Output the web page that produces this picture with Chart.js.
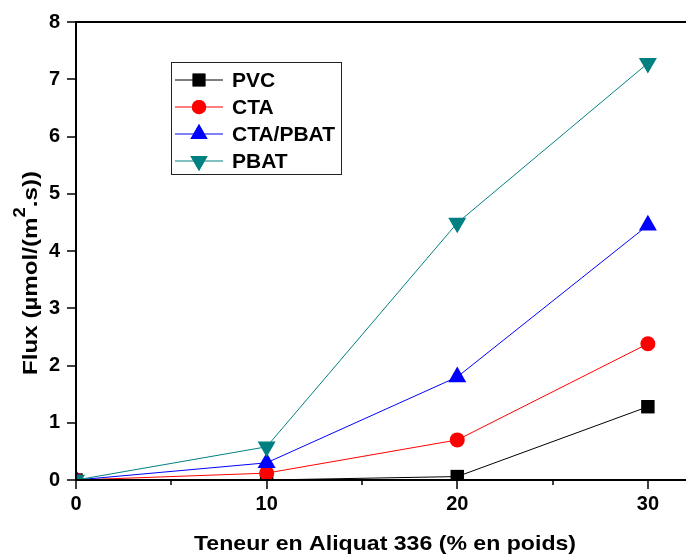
<!DOCTYPE html>
<html><head><meta charset="utf-8">
<script src="https://cdn.jsdelivr.net/npm/chart.js@4"></script>
<style>html,body{margin:0;padding:0;background:#fff}canvas{display:block}</style>
</head><body>
<canvas id="c" width="686" height="555"></canvas>
<script>
// Aliquat 336 loading (wt %) and measured flux for each membrane polymer
const loadings = [0, 10, 20, 30];
const pvc = [0, 0, 0.06, 1.28];
const cta = [0, 0.12, 0.70, 2.38];
const ctaPbat = [0, 0.30, 1.80, 4.45];
const pbat = [0, 0.58, 4.49, 7.28];
const seriesNames = ['PVC', 'CTA', 'CTA/PBAT', 'PBAT'];
const xMajorTicks = [0, 10, 20, 30];
const xMinorTicks = [5, 15, 25];
const yTicks = [0, 1, 2, 3, 4, 5, 6, 7, 8];
const xTitle = 'Teneur en Aliquat 336 (% en poids)';
const yTitleParts = ['Flux (\u00b5mol/(m', '2', '.s))'];

const FONT = '"Liberation Sans", Arial, sans-serif';
const styles = [
  {color: '#000000', pointStyle: 'rect', radius: 9.5, rotation: 0},
  {color: '#ff0000', pointStyle: 'circle', radius: 7.5, rotation: 0},
  {color: '#0000ff', pointStyle: 'triangle', radius: 10.4, rotation: 0},
  {color: '#008080', pointStyle: 'triangle', radius: 10.4, rotation: 180}
];
const seriesValues = [pvc, cta, ctaPbat, pbat];

const datasets = seriesValues.map((vals, i) => ({
  label: seriesNames[i],
  data: loadings.map((x, j) => ({x: x, y: vals[j]})),
  borderColor: styles[i].color,
  backgroundColor: styles[i].color,
  borderWidth: 1,
  pointStyle: styles[i].pointStyle,
  pointRadius: styles[i].radius,
  pointRotation: styles[i].rotation,
  pointBorderWidth: 0,
  pointBackgroundColor: styles[i].color,
  tension: 0,
  order: seriesNames.length - i
}));

// draws a string with a slight horizontal stretch along its baseline
function stretchedText(ctx, text, x, y, sx) {
  ctx.save();
  ctx.translate(x, y);
  ctx.scale(sx, 1);
  ctx.fillText(text, 0, 0);
  ctx.restore();
}

// axis frame with outward ticks, titles and boxed legend
const decor = {
  id: 'decor',
  afterDraw(chart) {
    const {ctx, chartArea: a, scales: {x, y}} = chart;
    ctx.save();
    ctx.strokeStyle = '#000';
    ctx.lineWidth = 2;
    ctx.beginPath();
    ctx.moveTo(a.left, a.top); ctx.lineTo(a.left, a.bottom + 1);
    ctx.moveTo(a.left - 1, a.bottom); ctx.lineTo(a.right, a.bottom);
    ctx.moveTo(a.left - 1, a.top); ctx.lineTo(a.right, a.top);
    ctx.stroke();
    ctx.lineWidth = 1.5;
    ctx.beginPath();
    yTicks.forEach(v => {
      const py = Math.round(y.getPixelForValue(v));
      ctx.moveTo(a.left - 9, py); ctx.lineTo(a.left, py);
    });
    xMajorTicks.forEach(v => {
      const px = Math.round(x.getPixelForValue(v));
      ctx.moveTo(px, a.bottom); ctx.lineTo(px, a.bottom + 9);
    });
    xMinorTicks.forEach(v => {
      const px = Math.round(x.getPixelForValue(v));
      ctx.moveTo(px, a.bottom); ctx.lineTo(px, a.bottom + 5);
    });
    ctx.stroke();

    // axis titles
    ctx.fillStyle = '#000';
    ctx.textBaseline = 'alphabetic';
    ctx.textAlign = 'left';
    const titleFont = 'bold 21px ' + FONT;
    ctx.font = titleFont;
    const sxX = 1.1;
    const wx = ctx.measureText(xTitle).width * sxX;
    stretchedText(ctx, xTitle, 385 - wx / 2, 550, sxX);

    const supFont = 'bold 16px ' + FONT;
    const sxY = 1.15;
    ctx.font = titleFont; const w0 = ctx.measureText(yTitleParts[0]).width * sxY;
    ctx.font = supFont; const w1 = ctx.measureText(yTitleParts[1]).width * sxY;
    ctx.font = titleFont; const w2 = ctx.measureText(yTitleParts[2]).width * sxY;
    const total = w0 + w1 + w2;
    ctx.save();
    ctx.translate(37, 273);
    ctx.rotate(-Math.PI / 2);
    let cx = -total / 2;
    ctx.font = titleFont; stretchedText(ctx, yTitleParts[0], cx, 0, sxY); cx += w0;
    ctx.font = supFont; stretchedText(ctx, yTitleParts[1], cx, -12, sxY); cx += w1;
    ctx.font = titleFont; stretchedText(ctx, yTitleParts[2], cx, 0, sxY);
    ctx.restore();
    ctx.restore();

    // legend
    ctx.save();
    ctx.strokeStyle = '#222';
    ctx.lineWidth = 1;
    ctx.strokeRect(171.5, 62.5, 170, 112);
    chart.data.datasets.forEach((ds, i) => {
      const ry = 80 + i * 27;
      ctx.strokeStyle = ds.borderColor;
      ctx.lineWidth = 1;
      ctx.beginPath();
      ctx.moveTo(175, ry); ctx.lineTo(223, ry);
      ctx.stroke();
      ctx.fillStyle = ds.pointBackgroundColor;
      Chart.helpers.drawPoint(ctx, {pointStyle: ds.pointStyle, radius: ds.pointRadius * 0.95, rotation: ds.pointRotation, borderWidth: 0}, 199, ry);
      ctx.fill();
      ctx.fillStyle = '#000';
      ctx.font = 'bold 21px ' + FONT;
      ctx.textAlign = 'left';
      ctx.textBaseline = 'middle';
      ctx.fillText(ds.label, 232, ry + 1);
    });
    ctx.restore();
  }
};

const zeroPad = s => { s.paddingLeft = 0; s.paddingRight = 0; s.paddingTop = 0; s.paddingBottom = 0; };

new Chart(document.getElementById('c'), {
  type: 'line',
  data: {datasets},
  options: {
    responsive: false,
    animation: false,
    layout: {autoPadding: false, padding: {top: 22, right: 0, left: 0, bottom: 0}},
    plugins: {legend: {display: false}, tooltip: {enabled: false}},
    scales: {
      x: {
        type: 'linear', min: 0, max: 32,
        afterBuildTicks: s => { s.ticks = xMajorTicks.map(v => ({value: v})); },
        afterFit: s => { s.height = 75; zeroPad(s); },
        grid: {display: false, drawTicks: false},
        border: {display: false},
        ticks: {color: '#000', font: {family: FONT, size: 20, weight: 'bold'}, padding: 12, maxRotation: 0}
      },
      y: {
        min: 0, max: 8,
        afterBuildTicks: s => { s.ticks = yTicks.map(v => ({value: v})); },
        afterFit: s => { s.width = 76; zeroPad(s); },
        grid: {display: false, drawTicks: false},
        border: {display: false},
        ticks: {color: '#000', font: {family: FONT, size: 20, weight: 'bold'}, padding: 16}
      }
    }
  },
  plugins: [decor]
});
</script>
</body></html>
